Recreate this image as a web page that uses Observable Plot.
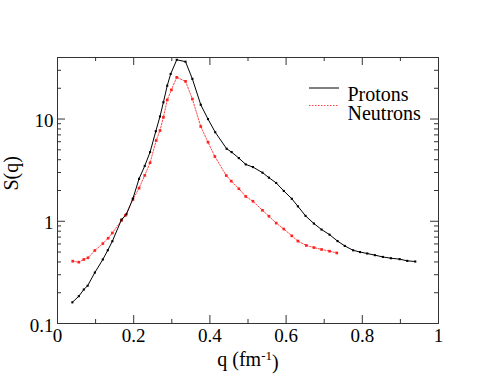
<!DOCTYPE html>
<html>
<head>
<meta charset="utf-8">
<script src="https://cdn.jsdelivr.net/npm/d3@7"></script>
<script src="https://cdn.jsdelivr.net/npm/@observablehq/plot@0.6"></script>
<style>
  html, body { margin: 0; padding: 0; background: #fff; font-family: "Liberation Serif"; }
  #chart { width: 493px; height: 381px; }
</style>
</head>
<body>
<div id="chart"></div>
<script>
// Protons S(q)
const protonQ = [0.039,0.056,0.069,0.079,0.098,0.119,0.132,0.144,0.168,0.181,0.198,0.214,0.229,0.243,0.258,0.269,0.278,0.288,0.297,0.313,0.336,0.354,0.376,0.395,0.414,0.444,0.457,0.476,0.494,0.513,0.538,0.555,0.574,0.594,0.615,0.631,0.651,0.673,0.693,0.714,0.735,0.754,0.776,0.794,0.813,0.833,0.854,0.875,0.898,0.918,0.939];
const protonS = [0.161,0.185,0.215,0.234,0.315,0.423,0.521,0.638,1.04,1.17,1.67,2.6,3.48,4.75,7.6,10.6,14.6,21.2,27.6,38.0,36.4,24.7,13.8,10.0,7.43,5.12,4.75,4.15,3.60,3.39,2.99,2.67,2.37,1.98,1.66,1.40,1.13,0.95,0.83,0.74,0.64,0.574,0.52,0.50,0.484,0.466,0.448,0.435,0.426,0.41,0.404];
// Neutrons S(q)
const neutronQ = [0.040,0.056,0.069,0.080,0.098,0.119,0.133,0.144,0.168,0.178,0.198,0.214,0.229,0.243,0.259,0.269,0.278,0.288,0.299,0.313,0.336,0.354,0.376,0.395,0.413,0.443,0.456,0.476,0.494,0.513,0.538,0.555,0.574,0.594,0.615,0.631,0.653,0.673,0.693,0.714,0.733];
const neutronS = [0.407,0.398,0.423,0.439,0.518,0.605,0.683,0.769,1.02,1.14,1.63,2.11,2.81,3.74,6.17,7.72,10.4,15.4,19.3,25.6,23.4,15.7,8.45,5.94,4.3,2.8,2.47,2.08,1.75,1.57,1.28,1.12,0.96,0.84,0.72,0.64,0.58,0.553,0.53,0.51,0.49];

const xMajor = [0, 0.2, 0.4, 0.6, 0.8, 1];
const xMinor = [0.1, 0.3, 0.5, 0.7, 0.9];
const xLabels = ["0", "0.2", "0.4", "0.6", "0.8", "1"];
const yMajor = [0.1, 1, 10];
const yMinor = [0.2,0.3,0.4,0.5,0.6,0.7,0.8,0.9,2,3,4,5,6,7,8,9,20,30];
const yLabels = ["0.1", "1", "10"];
const seriesNames = ["Protons", "Neutrons"];

const protons = protonQ.map((q, i) => ({q, s: protonS[i]}));
const neutrons = neutronQ.map((q, i) => ({q, s: neutronS[i]}));

const W = 493, H = 381, mL = 57, mR = 55, mT = 57, mB = 58;
const pw = W - mL - mR, ph = H - mT - mB;
const axisColor = "#333";
const FONT = "Liberation Serif";

const plot = Plot.plot({
  width: W, height: H,
  marginLeft: mL, marginRight: mR, marginTop: mT, marginBottom: mB,
  style: {color: "black", background: "white"},
  x: {domain: [0, 1]},
  y: {type: "log", domain: [0.1, 40]},
  marks: [
    // ticks (inward)
    Plot.tickX(xMajor, {x: d => d, insetTop: ph - 8, stroke: axisColor}),
    Plot.tickX(xMajor, {x: d => d, insetBottom: ph - 8, stroke: axisColor}),
    Plot.tickX(xMinor, {x: d => d, insetTop: ph - 4, stroke: axisColor}),
    Plot.tickX(xMinor, {x: d => d, insetBottom: ph - 4, stroke: axisColor}),
    Plot.tickY(yMajor, {y: d => d, insetRight: pw - 8, stroke: axisColor}),
    Plot.tickY(yMajor, {y: d => d, insetLeft: pw - 8, stroke: axisColor}),
    Plot.tickY(yMinor, {y: d => d, insetRight: pw - 4, stroke: axisColor}),
    Plot.tickY(yMinor, {y: d => d, insetLeft: pw - 4, stroke: axisColor}),
    Plot.axisX({ticks: xMajor, tickSize: 0, tickPadding: 5, tickFormat: d => xLabels[xMajor.indexOf(d)], label: null, fontSize: 19, fontFamily: FONT}),
    Plot.axisY({ticks: yMajor, tickSize: 0, tickPadding: 4, dy: 2, tickFormat: d => yLabels[yMajor.indexOf(d)], label: null, fontSize: 19, fontFamily: FONT}),
    Plot.frame({stroke: axisColor}),
    // data
    Plot.line(neutrons, {x: "q", y: "s", stroke: "#ff3030", strokeWidth: 0.9, strokeDasharray: "1.5,1.5"}),
    Plot.dot(neutrons, {x: "q", y: "s", symbol: "square", r: 1.5, fill: "#ff2020", stroke: "none"}),
    Plot.line(protons, {x: "q", y: "s", stroke: "black", strokeWidth: 1}),
    Plot.dot(protons, {x: "q", y: "s", symbol: "square", r: 1.2, fill: "black", stroke: "none"}),
    // titles
    Plot.text(["S(q)"], {frameAnchor: "left", dx: -46, rotate: -90, fontSize: 20, fontFamily: FONT, fill: "black"}),
    Plot.text(["q (fm-1)"], {frameAnchor: "bottom", dy: 42, fontSize: 20, fontFamily: FONT, fill: "black"}),
    // legend text
    Plot.text([seriesNames[0]], {frameAnchor: "top-left", dx: 290, dy: 29, textAnchor: "start", fontSize: 20, fontFamily: FONT, fill: "black"}),
    Plot.text([seriesNames[1]], {frameAnchor: "top-left", dx: 290, dy: 48, textAnchor: "start", fontSize: 20, fontFamily: FONT, fill: "black"})
  ]
});

const svg = d3.select(plot);
svg.attr("font-family", FONT);
// superscript in x title
svg.selectAll("text").each(function() {
  if (this.textContent === "q (fm-1)") {
    const t = d3.select(this);
    t.text(null);
    t.append("tspan").text("q (fm");
    t.append("tspan").attr("dy", "-0.45em").attr("font-size", "13px").text("-1");
    t.append("tspan").attr("dy", "0.45em").text(")");
  }
});
svg.selectAll("text, tspan, g").each(function() {
  this.setAttribute("font-family", FONT);
});
// legend line samples
const lg = svg.append("g").attr("aria-label", "legend");
lg.append("line").attr("x1", mL + 252).attr("x2", mL + 282).attr("y1", mT + 31).attr("y2", mT + 31)
  .attr("stroke", "black").attr("stroke-width", 1);
lg.append("line").attr("x1", mL + 252).attr("x2", mL + 282).attr("y1", mT + 48.5).attr("y2", mT + 48.5)
  .attr("stroke", "#ff3030").attr("stroke-width", 0.9).attr("stroke-dasharray", "1.5,1.5");

document.getElementById("chart").appendChild(plot);
</script>
</body>
</html>
